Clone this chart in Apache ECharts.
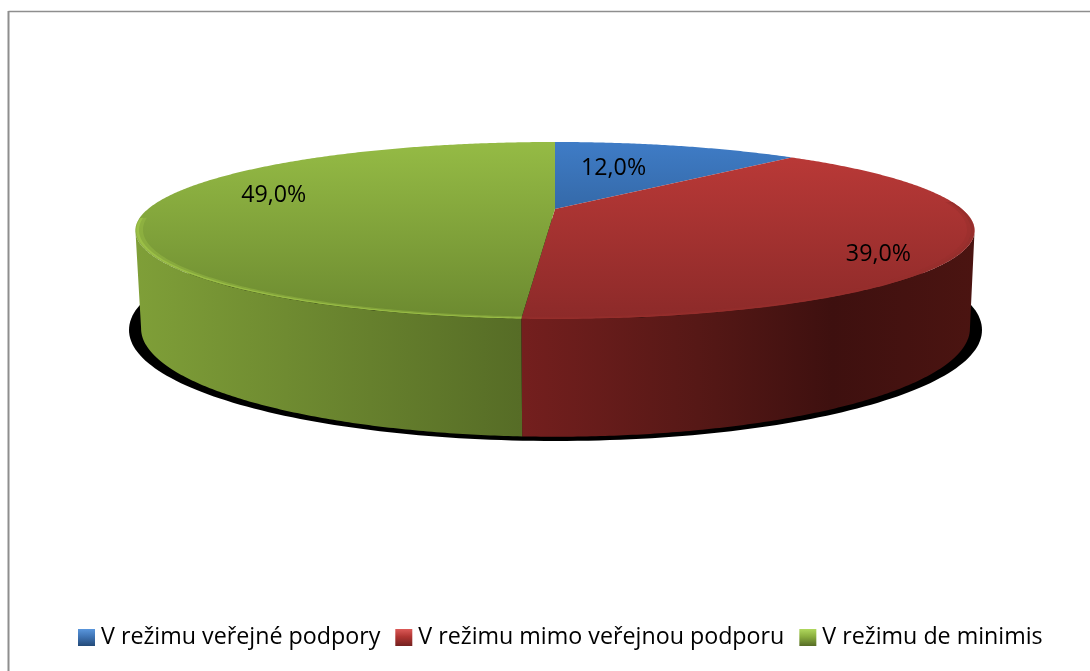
<!DOCTYPE html>
<html>
<head>
<meta charset="utf-8">
<script src="https://cdn.jsdelivr.net/npm/echarts@6/dist/echarts.min.js"></script>
<style>html,body{margin:0;padding:0;background:#fff}#c{width:1090px;height:671px}</style>
</head>
<body>
<div id="c"></div>
<script>
const categories = ['V režimu veřejné podpory', 'V režimu mimo veřejnou podporu', 'V režimu de minimis'];
const values = [12, 39, 49];
const valueLabels = ['12,0%', '39,0%', '49,0%'];

// Perspective pie model
const TOP = {cx: 555, cy: 209, A: 407, K: 83.3, p: 0.243};
const BOT = {cx: 555.5, cy: 302, A: 402, K: 102, p: 0.243};
const FONT = '"Open Sans", sans-serif';
const FONT_SIZE = 23.25;
const labelNudge = [[-32, 6], [43, 21], [2, -12]];
const topStops = [
  [[0, '#3F7CC6'], [1, '#234A78']],
  [[0, '#BD3A38'], [1, '#8C2A29']],
  [[0, '#95BB45'], [1, '#6C8A30']]
];
const wallStops = [
  [[0, '#2C5A93'], [1, '#2C5A93']],
  [[0, '#7A2120'], [0.46, '#741F1E'], [0.67, '#561816'], [0.83, '#3E100F'], [1, '#4B1411']],
  [[0, '#7F9F38'], [0.46, '#566C26'], [1, '#566C26']]
];
const rimColors = ['#3F7CC6', '#962F2D', '#9BBF47'];
const legendStops = [
  [[0, '#5A96DC'], [0.45, '#3F74B4'], [1, '#234A78']],
  [[0, '#DC5A58'], [0.45, '#B03532'], [1, '#742120']],
  [[0, '#B0D85E'], [0.45, '#8AAE3E'], [1, '#566C26']]
];

const RAD = Math.PI / 180;
function project(m, deg, r) {
  const u = Math.sin(deg * RAD) * r, v = -Math.cos(deg * RAD) * r;
  const s = 1 / (1 - m.p * v);
  return [m.cx + m.A * u * s, m.cy + m.K * v * s];
}
function arc(m, a, b, r) {
  const n = Math.max(2, Math.ceil(Math.abs(b - a) / 0.5));
  const out = [];
  for (let i = 0; i <= n; i++) out.push(project(m, a + (b - a) * i / n, r));
  return out;
}
function grad(x, y, x2, y2, stops) {
  return {type: 'linear', x, y, x2, y2, global: true,
    colorStops: stops.map(s => ({offset: s[0], color: s[1]}))};
}
const total = values.reduce((a, b) => a + b, 0);
const starts = [];
values.reduce((acc, v, i) => { starts[i] = acc; return acc + v; }, 0);

const visA = Math.acos(-TOP.p) / RAD, visB = 360 - visA;

function makeRender(i) {
  return function () {
    const a0 = starts[i] / total * 360, a1 = (starts[i] + values[i]) / total * 360;
    const children = [];
    const wa = Math.max(a0, visA), wb = Math.min(a1, visB);
    if (wb > wa) {
      const pts = arc(TOP, wa, wb, 1).concat(arc(BOT, wb, wa, 1));
      children.push({type: 'polygon', shape: {points: pts},
        style: {fill: grad(135, 0, 975, 0, wallStops[i])}});
    }
    const facePts = [[TOP.cx, TOP.cy]].concat(arc(TOP, a0, a1, 1));
    children.push({type: 'polygon', shape: {points: facePts},
      style: {fill: grad(0, 142, 0, 319, topStops[i])}});
    const ra = Math.max(a0, 85), rb = Math.min(a1, 264);
    if (rb > ra) {
      const soft = arc(TOP, ra, rb, 1).concat(arc(TOP, rb, ra, 0.983));
      children.push({type: 'polygon', shape: {points: soft}, style: {fill: rimColors[i], opacity: 0.45}});
      const rim = arc(TOP, ra, rb, 0.998).concat(arc(TOP, rb, ra, 0.992));
      children.push({type: 'polygon', shape: {points: rim}, style: {fill: rimColors[i]}});
    }
    const mid = (a0 + a1) / 2, lp = project(TOP, mid, 0.7);
    children.push({type: 'text', style: {
      x: lp[0] + labelNudge[i][0], y: lp[1] + labelNudge[i][1],
      text: valueLabels[i], fill: '#000', font: FONT_SIZE + 'px ' + FONT, align: 'center', verticalAlign: 'middle'
    }, z2: 10});
    return {type: 'group', children};
  };
}

const chart = echarts.init(document.getElementById('c'), null, {renderer: 'canvas'});
chart.setOption({
  animation: false,
  backgroundColor: '#fff',
  legend: {
    data: categories, left: 73, top: 621, icon: 'rect',
    itemWidth: 17, itemHeight: 17, itemGap: 15,
    textStyle: {fontFamily: FONT, fontSize: FONT_SIZE, color: '#000', padding: [0, 0, 0, 1]},
    selectedMode: false
  },
  graphic: [
    {type: 'line', z: 0, shape: {x1: 8.5, y1: 11.5, x2: 1090, y2: 11.5}, style: {stroke: '#8E8E8E', lineWidth: 1.5}},
    {type: 'line', z: 0, shape: {x1: 8.5, y1: 11, x2: 8.5, y2: 671}, style: {stroke: '#8E8E8E', lineWidth: 2}},
    {type: 'ellipse', z: 0, shape: {cx: 555.5, cy: 330, rx: 426.5, ry: 111}, style: {fill: '#000'}}
  ],
  series: categories.map((name, i) => ({
    type: 'custom', name,
    coordinateSystem: 'none',
    renderItem: makeRender(i),
    itemStyle: {color: {type: 'linear', x: 0, y: 0, x2: 0, y2: 1,
      colorStops: legendStops[i].map(s => ({offset: s[0], color: s[1]}))}},
    data: [values[i]],
    silent: true
  }))
});
</script>
</body>
</html>
